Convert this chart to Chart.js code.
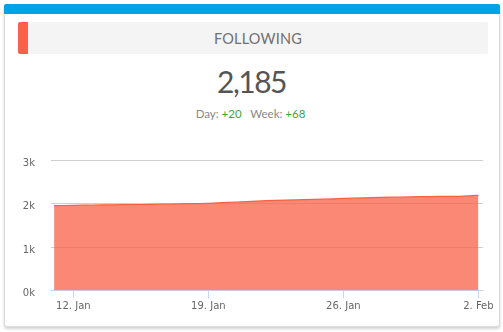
<!DOCTYPE html>
<html>
<head>
<meta charset="utf-8">
<script src="https://cdn.jsdelivr.net/npm/chart.js@4"></script>
<style>
  html, body { margin: 0; padding: 0; background: #fff; }
  body { width: 503px; height: 332px; position: relative; overflow: hidden; font-family: Lato, "Open Sans", sans-serif; }
  .card { position: absolute; left: 4px; top: 4px; width: 494px; height: 322px; background: #fff;
          border: 1px solid #dcdcdc; border-top: none; border-radius: 3px;
          box-shadow: 0 2px 3px rgba(0,0,0,0.18); }
  .bar { position: absolute; left: 4px; top: 4px; width: 496px; height: 10px; background: #02a2e8; border-radius: 2px 2px 0 0; }
  .head { position: absolute; left: 18px; top: 22px; width: 470px; height: 32px; background: #f4f4f4; border-radius: 2px; overflow: hidden; }
  .head .stripe { position: absolute; left: 0; top: 0; width: 10px; height: 100%; background: #fb614a; }
  .head .title { position: absolute; left: 10px; right: 0; top: 0; line-height: 33px; text-align: center;
                 font-size: 14.5px; color: #707070; letter-spacing: 0.2px; }
  .count { position: absolute; left: 0; width: 503px; top: 63px; text-align: center; font-size: 30px; color: #555; letter-spacing: -1.5px; }
  .delta { position: absolute; left: 0; width: 501px; top: 107px; text-align: center; font-size: 11.5px; color: #888; }
  .delta b { font-weight: normal; color: #3aa63a; }
  #wrap { position: absolute; left: 0; top: 138px; width: 503px; height: 182px; }
</style>
</head>
<body>
<div class="card"></div>
<div class="bar"></div>
<div class="head"><div class="stripe"></div><div class="title">FOLLOWING</div></div>
<div class="count">2,185</div>
<div class="delta">Day: <b>+20</b>&nbsp;&nbsp;&nbsp;Week: <b>+68</b></div>
<div id="wrap"><canvas id="chart" width="503" height="182"></canvas></div>
<script>
// daily follower counts, 11 Jan .. 2 Feb
const days = ['11. Jan','12. Jan','13. Jan','14. Jan','15. Jan','16. Jan','17. Jan','18. Jan','19. Jan','20. Jan',
  '21. Jan','22. Jan','23. Jan','24. Jan','25. Jan','26. Jan','27. Jan','28. Jan','29. Jan','30. Jan','31. Jan','1. Feb','2. Feb'];
const following = [1950,1958,1965,1970,1975,1980,1988,1995,2005,2025,2045,2065,2078,2088,2100,2117,2128,2140,2150,2158,2162,2165,2185];
const tickDays = [1, 8, 15, 22];
const yTicks = [0, 1000, 2000, 3000];

const points = following.map((v, i) => ({x: i, y: v}));

const ctx = document.getElementById('chart').getContext('2d');
new Chart(ctx, {
  type: 'line',
  data: {
    datasets: [{
      data: points,
      borderColor: '#f9603f',
      borderWidth: 1.2,
      backgroundColor: 'rgba(250,100,76,0.77)',
      fill: 'origin',
      pointRadius: 0,
      tension: 0.25
    }]
  },
  options: {
    responsive: false,
    animation: false,
    layout: { padding: { top: 0, right: 20, left: 0, bottom: 0 } },
    plugins: { legend: { display: false }, tooltip: { enabled: false } },
    scales: {
      x: {
        type: 'linear',
        min: -0.16,
        max: 22.24,
        afterBuildTicks: s => { s.ticks = tickDays.map(v => ({value: v})); },
        afterFit: s => { s.height = 29.5; },
        ticks: {
          autoSkip: false,
          maxRotation: 0,
          padding: 2,
          color: '#666',
          font: { family: 'DejaVu Sans', size: 10 },
          callback: v => days[v]
        },
        grid: { drawOnChartArea: false, drawTicks: true, tickLength: 8, tickColor: '#ccd6eb' },
        border: { color: '#ccd6eb', width: 1 }
      },
      y: {
        min: 0,
        max: 3000,
        afterBuildTicks: s => { s.ticks = yTicks.map(v => ({value: v})); },
        afterFit: s => { s.width = 51; },
        ticks: {
          padding: 16,
          labelOffset: 3,
          color: '#666',
          font: { family: 'DejaVu Sans', size: 10 },
          callback: v => (v / 1000) + 'k'
        },
        grid: { color: '#cfcfcf', drawTicks: false },
        border: { display: false }
      }
    }
  }
});
</script>
</body>
</html>
